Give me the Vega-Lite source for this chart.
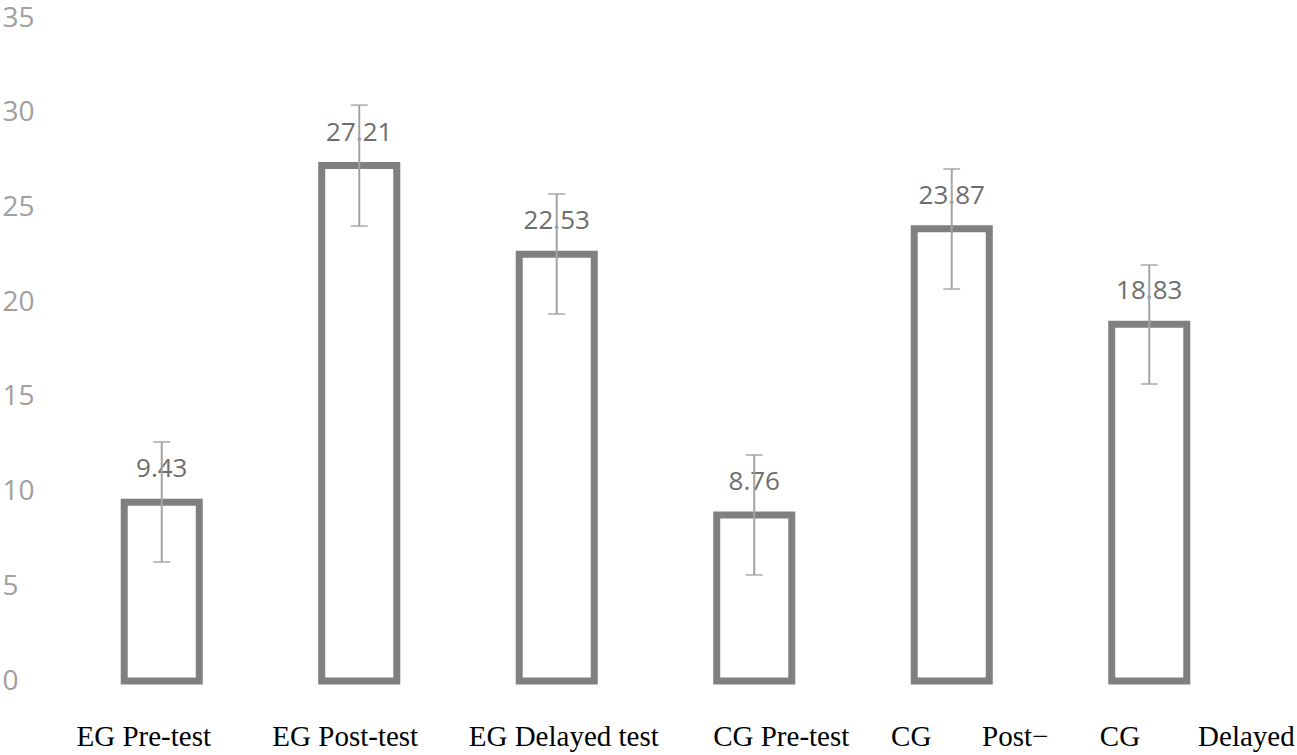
{
  "$schema": "https://vega.github.io/schema/vega-lite/v6.json",
  "width": 1185,
  "height": 663,
  "autosize": "none",
  "padding": {"left": 63, "top": 18, "right": 49, "bottom": 74},
  "background": "white",
  "config": {"view": {"stroke": null}},
  "data": {
    "values": [
      {"group": "EG Pre-test", "mean": 9.43, "lower": 6.28, "upper": 12.62},
      {"group": "EG Post-test", "mean": 27.21, "lower": 24.02, "upper": 30.4},
      {"group": "EG Delayed test", "mean": 22.53, "lower": 19.37, "upper": 25.71},
      {"group": "CG Pre-test", "mean": 8.76, "lower": 5.6, "upper": 11.93},
      {"group": "CG\u00a0\u00a0\u00a0\u00a0\u00a0\u00a0\u00a0Post\u2212", "mean": 23.87, "lower": 20.69, "upper": 27.03},
      {"group": "CG\u00a0\u00a0\u00a0\u00a0\u00a0\u00a0\u00a0\u00a0Delayed", "mean": 18.83, "lower": 15.68, "upper": 21.96}
    ]
  },
  "encoding": {
    "x": {
      "field": "group",
      "type": "nominal",
      "sort": null,
      "scale": {"paddingInner": 0.62, "paddingOuter": 0.31},
      "axis": {
        "title": null,
        "domain": false,
        "ticks": false,
        "tickSize": 0,
        "labelAngle": 0,
        "labelFont": "Liberation Serif",
        "labelFontSize": 29,
        "labelColor": "black",
        "labelBaseline": "alphabetic",
        "labelPadding": 64,
        "labelOverlap": false,
        "labelBound": false,
        "labelFlush": false,
        "labelLimit": 0,
        "labelOffset": {
          "condition": [
            {"test": "datum.value === 'EG Pre-test'", "value": -18},
            {"test": "datum.value === 'EG Post-test'", "value": -14},
            {"test": "datum.value === 'EG Delayed test'", "value": 7},
            {"test": "datum.value === 'CG Pre-test'", "value": 27},
            {"test": "datum.value === 'CG\u00a0\u00a0\u00a0\u00a0\u00a0\u00a0\u00a0Post\u2212'", "value": 18}
          ],
          "value": 48
        }
      }
    }
  },
  "layer": [
    {
      "mark": {"type": "bar", "fillOpacity": 0, "stroke": "#808080", "strokeWidth": 7},
      "encoding": {
        "y": {
          "field": "mean",
          "type": "quantitative",
          "scale": {"domain": [0, 35], "nice": false},
          "axis": {
            "title": null,
            "domain": false,
            "ticks": false,
            "tickSize": 0,
            "grid": false,
            "values": [0, 5, 10, 15, 20, 25, 30, 35],
            "labelAlign": "left",
            "labelPadding": 61,
            "labelFont": "Open Sans",
            "labelFontSize": 28,
            "labelColor": "#a0a0a0",
            "labelBaseline": "middle"
          }
        }
      }
    },
    {
      "mark": {"type": "text", "font": "Open Sans", "fontSize": 26, "color": "#6e6e6e", "baseline": "alphabetic", "dy": -25},
      "encoding": {
        "y": {"field": "mean", "type": "quantitative"},
        "text": {"field": "mean", "type": "quantitative", "format": ".2f"}
      }
    },
    {
      "mark": {"type": "rule", "color": "#a3a3a3", "strokeWidth": 2},
      "encoding": {
        "y": {"field": "lower", "type": "quantitative"},
        "y2": {"field": "upper"}
      }
    },
    {
      "mark": {"type": "tick", "color": "#a3a3a3", "thickness": 2, "size": 17},
      "encoding": {"y": {"field": "lower", "type": "quantitative"}}
    },
    {
      "mark": {"type": "tick", "color": "#a3a3a3", "thickness": 2, "size": 17},
      "encoding": {"y": {"field": "upper", "type": "quantitative"}}
    }
  ]
}
